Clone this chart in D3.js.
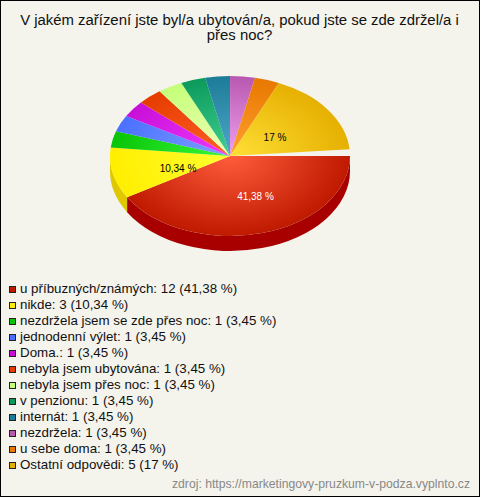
<!DOCTYPE html>
<html><head><meta charset="utf-8">
<script src="https://cdn.jsdelivr.net/npm/d3@7"></script>
<style>html,body{margin:0;padding:0;background:#f4f3ec}svg{display:block}text{font-family:"Liberation Sans",Arial,sans-serif}</style>
</head><body><svg id="c" width="480" height="497"></svg>
<script>
const titleLines = ["V jakém zařízení jste byl/a ubytován/a, pokud jste se zde zdržel/a i", "přes noc?"];
const categories = ["u příbuzných/známých","nikde","nezdržela jsem se zde přes noc","jednodenní výlet","Doma.","nebyla jsem ubytována","nebyla jsem přes noc","v penzionu","internát","nezdržela","u sebe doma","Ostatní odpovědi"];
const counts = [12,3,1,1,1,1,1,1,1,1,1,5];
const percentLabels = ["41,38","10,34","3,45","3,45","3,45","3,45","3,45","3,45","3,45","3,45","3,45","17"];
const drawnShares = [41.4,10.3,3.33,3.33,3.33,3.33,3.33,3.33,3.33,3.33,3.33,17.0];
const edgeColors = ["#bf1a00","#ffee00","#08c408","#4a70ff","#c80fd8","#e63c00","#c4ff78","#0c9a5c","#1c7c98","#b858b0","#e87800","#e6b000"];
const centerColors = ["#ff5c3c","#ffff30","#38f838","#7ea0ff","#f038ff","#ff6028","#f0ffb8","#40d090","#50a8c8","#f0a0f0","#ffa030","#ffe038"];
const sideColors = ["#a80000","#e0c800"];
const source = "zdroj: https://marketingovy-pruzkum-v-podza.vyplnto.cz";

const W=480,H=497, cx=230, cy=156, rx=120, ry=80, depth=15;
const svg=d3.select("#c");
svg.append("rect").attr("x",.5).attr("y",.5).attr("width",W-1).attr("height",H-1).attr("fill","#f4f3ec").attr("stroke","#000");
svg.append("g").selectAll("text").data(titleLines).join("text")
  .attr("x",239.5).attr("y",(d,i)=>25+i*15).attr("text-anchor","middle").attr("font-size",14.9).attr("fill","#111").text(d=>d);

const start=Math.PI/2;
const sum=d3.sum(drawnShares);
const pie=d3.pie().sort(null).value(d=>d).startAngle(start).endAngle(start+2*Math.PI*sum/100);
const arcs=pie(drawnShares);
const arc=d3.arc().innerRadius(0).outerRadius(rx);
const defs=svg.append("defs");
edgeColors.forEach((c,i)=>{
  const g=defs.append("radialGradient").attr("id","g"+i).attr("gradientUnits","userSpaceOnUse").attr("cx",0).attr("cy",0).attr("r",rx);
  g.append("stop").attr("offset",0).attr("stop-color",centerColors[i]);
  g.append("stop").attr("offset",1).attr("stop-color",c);
});
const yScale=ry/rx, dy=depth/yScale;
const pieG=svg.append("g").attr("transform",`translate(${cx},${cy}) scale(1,${yScale})`);
arcs.forEach((a,i)=>{
  const lo=Math.max(a.startAngle,Math.PI/2), hi=Math.min(a.endAngle,Math.PI*1.5);
  if(hi<=lo||!sideColors[i])return;
  const p=d3.path();
  p.arc(0,0,rx,lo-Math.PI/2,hi-Math.PI/2);
  p.lineTo(rx*Math.cos(hi-Math.PI/2),rx*Math.sin(hi-Math.PI/2)+dy);
  p.arc(0,dy,rx,hi-Math.PI/2,lo-Math.PI/2,true);
  p.closePath();
  pieG.append("path").attr("d",p.toString()).attr("fill",sideColors[i]);
});
pieG.selectAll("path.s").data(arcs).join("path").attr("class","s").attr("d",arc).attr("fill",(d,i)=>`url(#g${i})`);

const lab=[{i:0,x:255.5,y:200,c:"#fff"},{i:1,x:178,y:172,c:"#000"},{i:11,x:275,y:141,c:"#000"}];
svg.append("g").selectAll("text").data(lab).join("text")
  .attr("x",d=>d.x).attr("y",d=>d.y).attr("text-anchor","middle").attr("font-size",10).attr("fill",d=>d.c)
  .text(d=>percentLabels[d.i]+" %");

const legend=svg.append("g").selectAll("g").data(categories).join("g").attr("transform",(d,i)=>`translate(0,${286+i*16})`);
legend.append("rect").attr("x",9.5).attr("y",.5).attr("width",6).attr("height",6).attr("fill",(d,i)=>edgeColors[i]).attr("stroke","#222");
legend.append("text").attr("x",20).attr("y",7).attr("font-size",13.33).attr("fill","#111")
  .text((d,i)=>`${d}: ${counts[i]} (${percentLabels[i]} %)`);
svg.append("text").attr("x",470).attr("y",488).attr("text-anchor","end").attr("font-size",12.2).attr("fill","#888").text(source);
</script></body></html>
